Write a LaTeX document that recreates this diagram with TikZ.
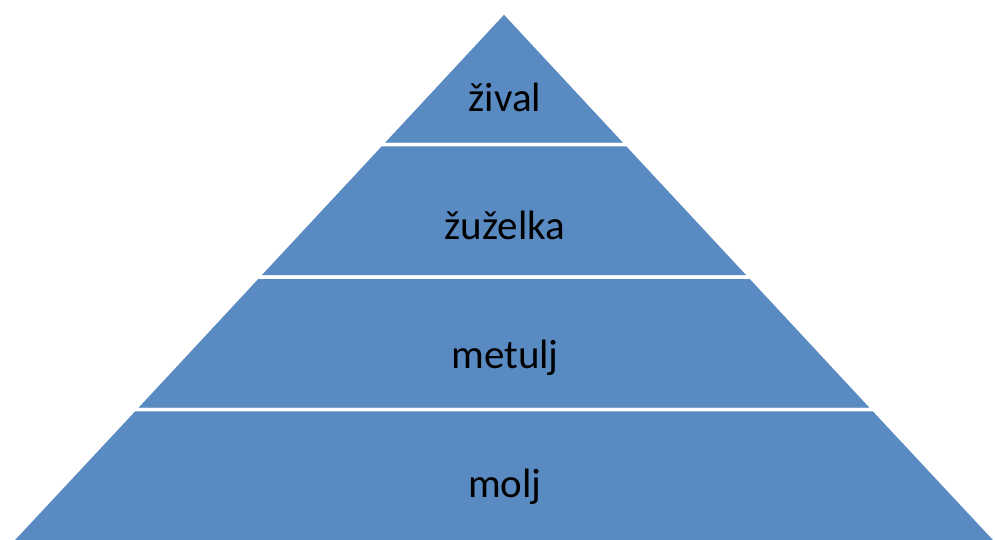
\documentclass[tikz,border=0pt]{standalone}
\usepackage{fontspec}
\setmainfont{Carlito}
\definecolor{pyrblue}{RGB}{89,139,194}
\begin{document}
\begin{tikzpicture}[x=1pt,y=-1pt,
  layer/.style={fill=pyrblue,draw=white,line width=3.5pt,line join=miter},
  lbl/.style={font=\fontsize{41}{49}\selectfont,anchor=base,text=black,inner sep=0pt}]
\useasboundingbox (0,0) rectangle (995,539);
\begin{scope}
\clip (0,0) rectangle (995,539);
\path[layer] (504,12) -- (627.2,144.5) -- (380.8,144.5) -- cycle;
\path[layer] (380.8,144.5) -- (627.2,144.5) -- (750.5,277) -- (257.5,277) -- cycle;
\path[layer] (257.5,277) -- (750.5,277) -- (873.7,409.5) -- (134.3,409.5) -- cycle;
\path[layer] (134.3,409.5) -- (873.7,409.5) -- (1003,548) -- (5,548) -- cycle;
\end{scope}
\node[lbl] (t1) at (505,111) {žival};
\node[lbl] (t2) at (505,239) {žuželka};
\node[lbl] (t3) at (505,368) {metulj};
\node[lbl] (t4) at (505,497) {molj};
\end{tikzpicture}
\end{document}
